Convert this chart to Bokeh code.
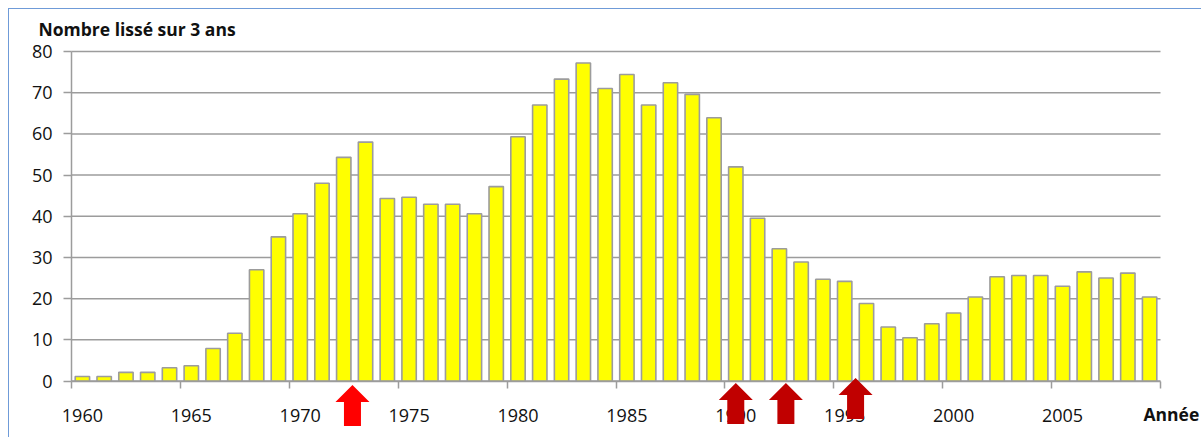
from bokeh.plotting import figure
from bokeh.models import FixedTicker, Range1d
from bokeh.core.properties import value
from bokeh.embed import file_html
from bokeh.resources import INLINE

# ---- data ----
years = list(range(1960, 2010))
values = [1.1, 1.1, 2.1, 2.1, 3.2, 3.7, 7.9, 11.6, 27.0, 35.0,
          40.6, 48.0, 54.3, 58.0, 44.3, 44.6, 42.9, 42.9, 40.6, 47.2,
          59.3, 67.0, 73.3, 77.2, 71.0, 74.4, 67.0, 72.4, 69.6, 63.9,
          52.0, 39.5, 32.1, 28.9, 24.7, 24.2, 18.8, 13.1, 10.5, 13.9,
          16.5, 20.4, 25.3, 25.6, 25.6, 23.0, 26.5, 25.0, 26.2, 20.4]
y_ticks = [0, 10, 20, 30, 40, 50, 60, 70, 80]
x_label_years = [1960, 1965, 1970, 1975, 1980, 1985, 1990, 1995, 2000, 2005]
arrow_years = [1972.4, 1990.0, 1992.3, 1995.5]
arrow_colors = ["#FF0000", "#C00000", "#C00000", "#C00000"]
title_text = "Nombre lissé sur 3 ans"
xlabel_text = "Année"

# ---- layout / style ----
FONT = "Open Sans"
GRAY = "#9C9C9C"
TXT = "#111111"
W, H = 1193, 429
AXIS_X, TOP80 = 62, 42    # y axis line / y=80 line (plot pixels)
PX_X = 1089 / 50.0        # pixels per category
PX_Y = 329.5 / 80.0       # pixels per unit
x0, x1 = years[0] - 0.5, years[-1] + 0.5
x_start = x0 - AXIS_X / PX_X
x_end = x_start + W / PX_X
y_end = 80 + TOP80 / PX_Y
y_start = y_end - H / PX_Y

p = figure(width=W, height=H, output_backend="svg", toolbar_location=None,
           x_range=Range1d(x_start, x_end), y_range=Range1d(y_start, y_end),
           min_border=0)
p.outline_line_color = None
p.background_fill_color = "white"
p.border_fill_color = "white"
p.styles = {"border-top": "1px solid #6F9BD8", "border-left": "1px solid #6F9BD8",
            "margin-left": "8px", "margin-top": "8px"}

p.xgrid.visible = False
p.ygrid.visible = False

# horizontal gridlines
p.segment(x0=[x0] * len(y_ticks), x1=[x1] * len(y_ticks), y0=y_ticks, y1=y_ticks,
          line_color=GRAY, line_width=1.5)

p.vbar(x=years, top=values, width=0.66, fill_color="#FFFF00",
       line_color=GRAY, line_width=1.6)

# y axis (real axis, drawn at the first category boundary)
p.yaxis.fixed_location = x0
p.yaxis.bounds = (0, 80)
p.yaxis.ticker = FixedTicker(ticks=y_ticks)
p.yaxis.axis_line_color = GRAY
p.yaxis.axis_line_width = 1.5
p.yaxis.major_tick_line_color = GRAY
p.yaxis.major_tick_line_width = 1.5
p.yaxis.major_tick_out = 8
p.yaxis.major_tick_in = 0
p.yaxis.minor_tick_line_color = None
p.yaxis.major_label_standoff = 11
p.yaxis.major_label_text_font = FONT
p.yaxis.major_label_text_font_size = "18px"
p.yaxis.major_label_text_color = TXT

# x axis (real axis at y=0): labels at bar centres, ticks at every 5th boundary
boundaries = [y - 0.5 for y in x_label_years] + [x1]
p.xaxis.fixed_location = 0
p.xaxis.bounds = (x0, x1)
p.xaxis.ticker = FixedTicker(ticks=x_label_years, minor_ticks=boundaries)
p.xaxis.axis_line_color = GRAY
p.xaxis.axis_line_width = 1.5
p.xaxis.major_tick_line_color = None
p.xaxis.major_tick_out = 0
p.xaxis.major_tick_in = 0
p.xaxis.minor_tick_line_color = GRAY
p.xaxis.minor_tick_line_width = 1.5
p.xaxis.minor_tick_out = 7
p.xaxis.minor_tick_in = 0
p.xaxis.major_label_standoff = 21
p.xaxis.major_label_text_font = FONT
p.xaxis.major_label_text_font_size = "18px"
p.xaxis.major_label_text_color = TXT

# block arrows under the axis
arrow_tips = [-4 / PX_Y, -2 / PX_Y, -2 / PX_Y, 3 / PX_Y]
hw, sw = 17 / PX_X, 8.5 / PX_X
xs, ys = [], []
for ax, tip in zip(arrow_years, arrow_tips):
    base = tip - 17 / PX_Y
    bottom = tip - 41 / PX_Y
    xs.append([ax, ax + hw, ax + sw, ax + sw, ax - sw, ax - sw, ax - hw])
    ys.append([tip, base, base, bottom, bottom, base, base])
p.patches(xs=xs, ys=ys, fill_color=arrow_colors, line_color=None, level="overlay")

# title and axis caption
p.text(x=[x0 - (71 - 38) / PX_X], y=[80 + (51 - 28.5) / PX_Y], text=[title_text],
       text_font=value(FONT), text_font_style="bold", text_font_size="17.5px",
       text_color=TXT, text_align="left", text_baseline="alphabetic")
p.text(x=[x0 + (1143 - 71) / PX_X], y=[-33 / PX_Y], text=[xlabel_text],
       text_font=value(FONT), text_font_style="bold", text_font_size="17.5px",
       text_color=TXT, text_align="left", text_baseline="alphabetic")

open("out.html", "w").write(file_html(p, INLINE))
